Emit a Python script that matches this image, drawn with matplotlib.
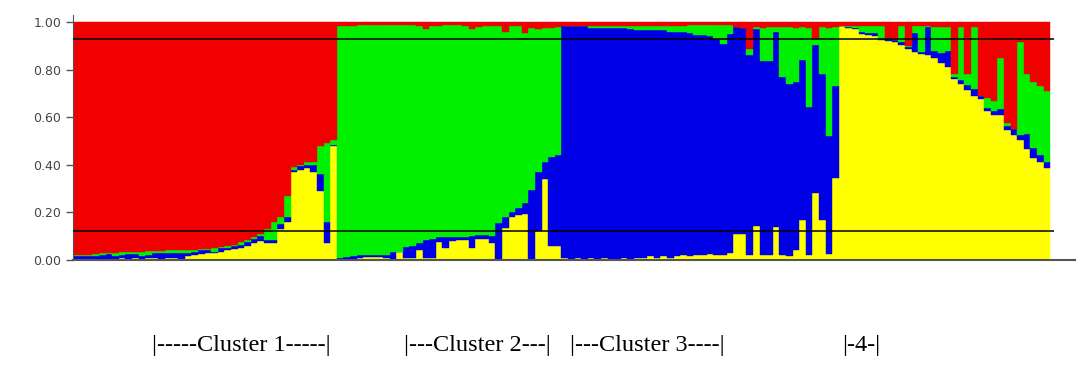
import numpy as np
import matplotlib.pyplot as plt

# membership proportions per individual (Q matrix)
# stacking order bottom -> top: yellow, blue, green, red

# cluster 1 (mostly red)
yellow_c1 = [0, .005, 0, .005, .005, .005, .005, .01, .005, .01,
             .005, .01, .01, .005, .01, .01, .005, .015, .02, .025,
             .03, .03, .035, .04, .045, .05, .06, .07, .08, .07,
             .07, .13, .16, .37, .38, .385, .37, .29, .07, .48]
blue_c1 = [.015, .01, .015, .01, .015, .02, .01, .01, .02, .015,
           .01, .01, .02, .025, .02, .02, .025, .015, .015, .015,
           .01, .005, .015, .01, .015, .015, .015, .02, .02, .015,
           .015, .02, .02, .01, .015, .015, .03, .07, .09, .005]
green_c1 = [.005, .005, .005, .01, .008, .005, .015, .012, .008, .01,
            .02, .016, .007, .008, .01, .01, .01, .012, .008, .005,
            .007, .015, .005, .01, .005, .01, .01, .005, .01, .045,
            .075, .03, .09, .01, .005, .01, .01, .12, .33, .02]
red_c1 = [.98, .98, .98, .975, .972, .97, .97, .968, .967, .965,
          .965, .964, .963, .962, .96, .96, .96, .958, .957, .955,
          .953, .95, .945, .94, .935, .925, .915, .905, .89, .87,
          .84, .82, .73, .61, .60, .59, .59, .52, .51, .495]

# cluster 2 (mostly green)
yellow_c2 = [.005, .005, .005, .01, .012, .012, .012, .01, 0, .035,
             .01, .01, .04, .01, .01, .076, .05, .08, .084, .084,
             .05, .09, .09, .07, .005, .135, .18, .19, .195, .005,
             .12, .34, .06, .06]
blue_c2 = [.005, .008, .01, .01, .008, .008, .008, .01, .035, 0,
           .045, .05, .03, .075, .08, .02, .045, .015, .014, .014,
           .05, .015, .015, .03, .15, .045, .02, .03, .045, .29,
           .25, .07, .375, .38]
green_c2 = [.975, .972, .97, .97, .97, .97, .97, .97, .955, .955,
            .935, .93, .915, .885, .895, .89, .895, .895, .892, .887,
            .87, .875, .88, .885, .83, .78, .785, .765, .715, .68,
            .60, .565, .54, .54]
red_c2 = [.015, .015, .015, .01, .01, .01, .01, .01, .01, .01,
          .01, .01, .015, .03, .015, .015, .01, .01, .01, .015,
          .03, .02, .015, .015, .015, .04, .015, .015, .045, .025,
          .03, .025, .025, .02]

# cluster 3 (mostly blue)
yellow_c3 = [.01, .005, .01, .005, .01, .005, .01, .005, .005, .01,
             .005, .01, .01, .015, .01, .015, .01, .015, .02, .015,
             .02, .02, .025, .02, .02, .03, .11, .11, .02, .145,
             .02, .02, .14, .02, .015, .04, .17, .02, .28, .17,
             .025, .345]
blue_c3 = [.975, .98, .975, .98, .965, .97, .965, .97, .97, .965,
           .965, .955, .955, .95, .955, .95, .95, .945, .94, .94,
           .925, .925, .915, .91, .89, .92, .87, .865, .84, .825,
           .815, .815, .82, .75, .725, .71, .67, .625, .625, .61,
           .495, .385]
green_c3 = [0, 0, 0, 0, .01, .01, .01, .01, .01, .01,
            .015, .02, .02, .02, .02, .02, .025, .025, .025, .035,
            .045, .045, .05, .06, .08, .04, 0, 0, .025, .01,
            .14, .145, .02, .21, .24, .225, .14, .33, .03, .2,
            .455, .25]
red_c3 = [.015, .015, .015, .015, .015, .015, .015, .015, .015, .015,
          .015, .015, .015, .015, .015, .015, .015, .015, .015, .01,
          .01, .01, .01, .01, .01, .01, .02, .025, .115, .02,
          .025, .02, .02, .02, .02, .025, .02, .025, .065, .02,
          .025, .02]

# cluster 4 (mostly yellow)
yellow_c4 = [.985, .975, .97, .95, .945, .94, .925, .92, .915, .905,
             .885, .875, .865, .86, .85, .83, .81, .76, .74, .715,
             .69, .675, .625, .61, .61, .545, .525, .505, .465, .43,
             .41, .385]
blue_c4 = [0, .005, .005, .01, .01, .015, .005, .01, .01, .01,
           .01, .08, .01, .12, .03, .04, .07, .01, .015, .02,
           .03, .015, .015, .015, .025, .02, .025, .02, .065, .04,
           .03, .025]
green_c4 = [0, .005, .01, .025, .03, .03, .055, .005, 0, .07,
            .005, .03, .11, .005, .1, .11, .1, .01, .225, .045,
            .26, 0, .04, .045, .215, .01, 0, .39, .25, .28,
            .29, .3]
red_c4 = [.015, .015, .015, .015, .015, .015, .015, .065, .075, .015,
          .1, .015, .015, .015, .02, .02, .02, .22, .02, .22,
          .02, .31, .32, .33, .15, .425, .45, .085, .22, .25,
          .27, .29]

cluster_labels = ['|-----Cluster 1-----|', '|---Cluster 2---|', '|---Cluster 3----|', '|-4-|']
label_x = [152, 404, 570, 842]
yticks = [0.0, 0.2, 0.4, 0.6, 0.8, 1.0]
cut_lines = [0.93, 0.12]

yellow = np.array(yellow_c1 + yellow_c2 + yellow_c3 + yellow_c4)
blue = np.array(blue_c1 + blue_c2 + blue_c3 + blue_c4)
green = np.array(green_c1 + green_c2 + green_c3 + green_c4)
red = np.array(red_c1 + red_c2 + red_c3 + red_c4)
q = np.vstack([yellow, blue, green, red])
q = q / q.sum(axis=0)  # rows of a Q matrix sum to 1
colors = ['#ffff00', '#0000e6', '#00f000', '#f00000']

W, H = 1076, 373
fig = plt.figure(figsize=(W / 100, H / 100), dpi=100)
ax = fig.add_axes([72.5 / W, 113 / H, 1 - 72.5 / W, 245 / H])

n = q.shape[1]
x = np.arange(n)
bottom = np.zeros(n)
for row, col in zip(q, colors):
    ax.bar(x, row, width=1.0, bottom=bottom, color=col, edgecolor=col,
           linewidth=0.3, align='center')
    bottom += row

ax.hlines(cut_lines, -0.5, n, colors='black', lw=1.1, zorder=5)

ax.set_xlim(-0.5, n + 3.4)
ax.set_ylim(0, 1.03)
ax.set_xticks([])
ax.set_yticks(yticks)
ax.set_yticklabels(['%.2f' % v for v in yticks], fontsize=9, color='#444444')
ax.tick_params(axis='y', direction='out', length=5, width=1, color='#555555', pad=3)
for s in ['top', 'right']:
    ax.spines[s].set_visible(False)
ax.spines['left'].set_color('#555555')
ax.spines['bottom'].set_color('#555555')
ax.spines['bottom'].set_linewidth(1.5)

for lab, lx in zip(cluster_labels, label_x):
    fig.text(lx / W, (H - 346) / H, lab, ha='left', va='center',
             family='Liberation Serif', fontsize=17.5, color='black')

fig.savefig('out.png', dpi=100)
